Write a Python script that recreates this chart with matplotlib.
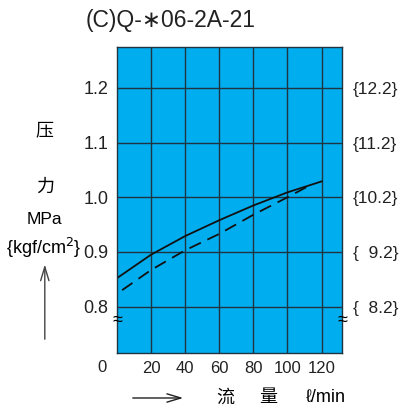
import matplotlib
matplotlib.use("Agg")
import matplotlib.pyplot as plt
import numpy as np

plt.rcParams['font.family'] = ['Liberation Sans', 'Noto Sans CJK SC', 'DejaVu Sans']

# 流量 (l/min) と圧力 (MPa)
flow_solid = [0, 20, 40, 60, 80, 100, 120]
pres_solid = [0.852, 0.895, 0.929, 0.958, 0.985, 1.009, 1.029]
flow_dash = [3, 20, 40, 60, 80, 100, 112]
pres_dash = [0.830, 0.867, 0.903, 0.933, 0.968, 1.000, 1.020]

x_ticks = [20, 40, 60, 80, 100, 120]
y_ticks = [0.8, 0.9, 1.0, 1.1, 1.2]
y_right = ['{  8.2}', '{  9.2}', '{10.2}', '{11.2}', '{12.2}']

fig = plt.figure(figsize=(4.0, 4.12), dpi=100)
ax = fig.add_axes([0.2925, 0.1432, 0.5625, 0.7427])
ax.set_facecolor('#00aeef')
ax.set_xlim(0, 132)
ax.set_ylim(0.715, 1.275)

gc = '#1f3340'
for xv in x_ticks:
    ax.axvline(xv, color=gc, lw=1.0)
for yv in y_ticks:
    ax.axhline(yv, color=gc, lw=1.0)

ax.plot(flow_solid, pres_solid, color='#111111', lw=1.3)
ax.plot(flow_dash, pres_dash, color='#111111', lw=1.3, dashes=(7, 4))

for s in ax.spines.values():
    s.set_color(gc)
    s.set_linewidth(1.0)

ax.set_xticks(x_ticks)
ax.set_xticklabels([str(v) for v in x_ticks], fontsize=12, color='#222222')
ax.set_yticks(y_ticks)
ax.set_yticklabels(['%.1f' % v for v in y_ticks], fontsize=13, color='#222222')
ax.tick_params(length=0, pad=6)

ax2 = ax.twinx()
ax2.set_ylim(ax.get_ylim())
ax2.set_yticks(y_ticks)
ax2.set_yticklabels(y_right, fontsize=12.5, color='#222222')
ax2.tick_params(length=0, pad=8)
for s in ax2.spines.values():
    s.set_visible(False)

# 省略記号
ax.text(0, 0.775, '≈', fontsize=13, ha='center', va='center', clip_on=False)
ax.text(132, 0.775, '≈', fontsize=13, ha='center', va='center', clip_on=False)

fig.text(0.213, 0.951, '(C)Q-∗06-2A-21', fontsize=16.5, color='#222222', ha='left', va='center')
fig.text(0.255, 0.108, '0', fontsize=12, color='#222222', ha='center', va='center')

fig.text(0.112, 0.682, '压', fontsize=13, ha='center', va='center')
fig.text(0.112, 0.546, '力', fontsize=13, ha='center', va='center')
fig.text(0.112, 0.468, 'MPa', fontsize=12.5, ha='center', va='center')
fig.text(0.108, 0.398, '{kgf/cm$^2$}', fontsize=13, ha='center', va='center')
fig.add_artist(matplotlib.patches.FancyArrowPatch((0.112, 0.17), (0.112, 0.365), transform=fig.transFigure,
               arrowstyle='->,head_length=10,head_width=3', color='#444444', lw=1.0))

fig.add_artist(matplotlib.patches.FancyArrowPatch((0.325, 0.034), (0.465, 0.034), transform=fig.transFigure,
               arrowstyle='->,head_length=10,head_width=3', color='#222222', lw=1.0))
fig.text(0.562, 0.034, '流', fontsize=13, ha='center', va='center')
fig.text(0.67, 0.034, '量', fontsize=13, ha='center', va='center')
fig.text(0.815, 0.034, 'ℓ/min', fontsize=13, ha='center', va='center')

fig.savefig('out.png', dpi=100)
